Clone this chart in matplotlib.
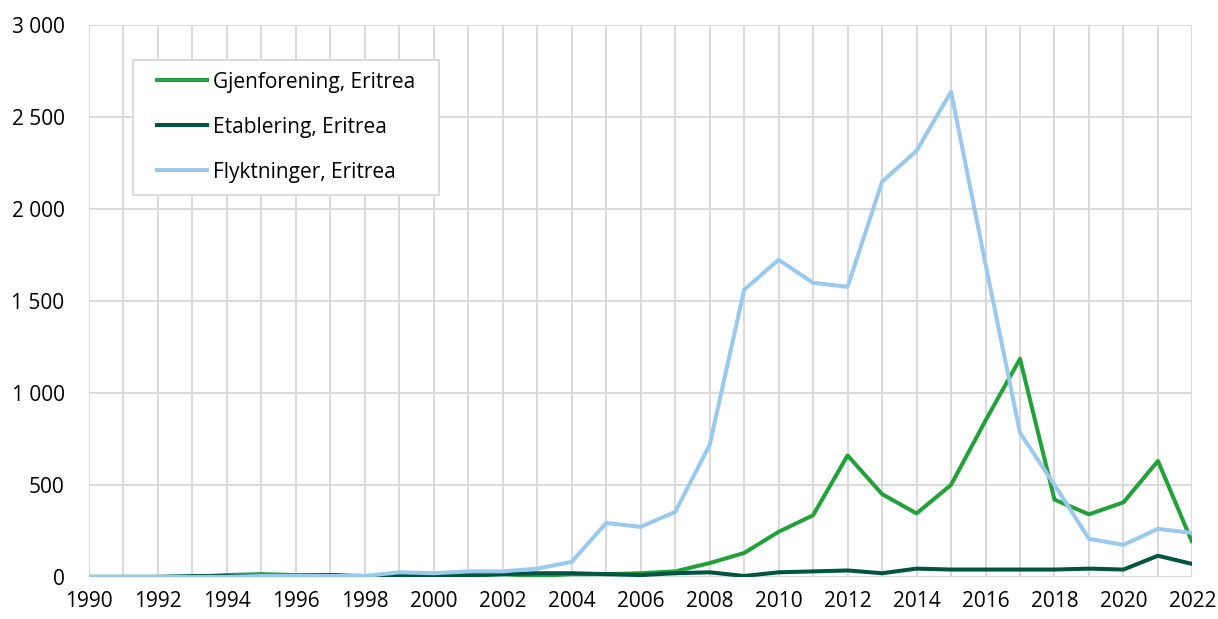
import matplotlib
matplotlib.use("Agg")
import matplotlib.pyplot as plt
from matplotlib.patches import Rectangle
from matplotlib.ticker import FuncFormatter, MultipleLocator

years = list(range(1990, 2023))
gjenforening = [0, 0, 0, 0, 10, 15, 10, 10, 5, 0, 0, 5, 15, 5, 15, 15, 20, 30, 75, 130,
                245, 335, 660, 450, 345, 500, 850, 1185, 420, 340, 405, 630, 185]
etablering = [0, 0, 0, 5, 5, 5, 5, 10, 0, 5, 5, 10, 15, 20, 20, 15, 10, 20, 25, 5,
              25, 30, 35, 20, 45, 40, 40, 40, 40, 45, 40, 115, 70]
flyktninger = [0, 0, 0, 0, 0, 5, 5, 5, 5, 25, 20, 30, 30, 45, 82, 293, 272, 353, 717, 1560,
               1723, 1598, 1576, 2147, 2315, 2636, 1700, 783, 500, 207, 174, 261, 239]

plt.rcParams['font.family'] = ['Open Sans', 'DejaVu Sans']

fig = plt.figure(figsize=(12.18, 6.19), dpi=100)
ax = fig.add_axes([0.073, 0.068, 0.906, 0.892])

lw = 2.9
ax.plot(years, gjenforening, color='#22a03a', lw=lw, label='Gjenforening, Eritrea', solid_capstyle='butt')
ax.plot(years, etablering, color='#005541', lw=lw, label='Etablering, Eritrea', solid_capstyle='butt')
ax.plot(years, flyktninger, color='#99c9ec', lw=lw, label='Flyktninger, Eritrea', solid_capstyle='butt')

ax.set_xlim(1990, 2022)
ax.set_ylim(0, 3000)
ax.xaxis.set_major_locator(MultipleLocator(2))
ax.xaxis.set_minor_locator(MultipleLocator(1))
ax.yaxis.set_major_locator(MultipleLocator(500))
ax.yaxis.set_major_formatter(FuncFormatter(lambda v, p: f"{int(v):,}".replace(",", " ")))
ax.grid(True, which='both', axis='x', color='#d9d9d9', lw=1.4)
ax.grid(True, which='major', axis='y', color='#d9d9d9', lw=1.4)
ax.set_axisbelow(True)
for s in ax.spines.values():
    s.set_visible(False)
ax.tick_params(which='both', length=0, labelsize=15, colors='#000000')
ax.tick_params(axis='x', pad=10)
ax.tick_params(axis='y', pad=17.5)

leg = ax.legend(loc='upper left', bbox_to_anchor=(0.0598, 0.915), fontsize=15, frameon=False,
                handlelength=2.6, labelspacing=1.15, borderpad=0, handletextpad=0.2,
                borderaxespad=0)
leg.set_zorder(6)

fig.canvas.draw()
bb = leg.get_window_extent()
inv = fig.transFigure.inverted()
(x0, y0) = inv.transform((bb.x0 - 22, bb.y0 - 12))
(x1, y1) = inv.transform((bb.x1 + 24, bb.y1 + 12))
frame = Rectangle((x0, y0), x1 - x0, y1 - y0, transform=fig.transFigure,
                  facecolor='white', edgecolor='#d9d9d9', lw=1.4, zorder=5, clip_on=False)
ax.add_patch(frame)

fig.savefig('out.png', dpi=100)
